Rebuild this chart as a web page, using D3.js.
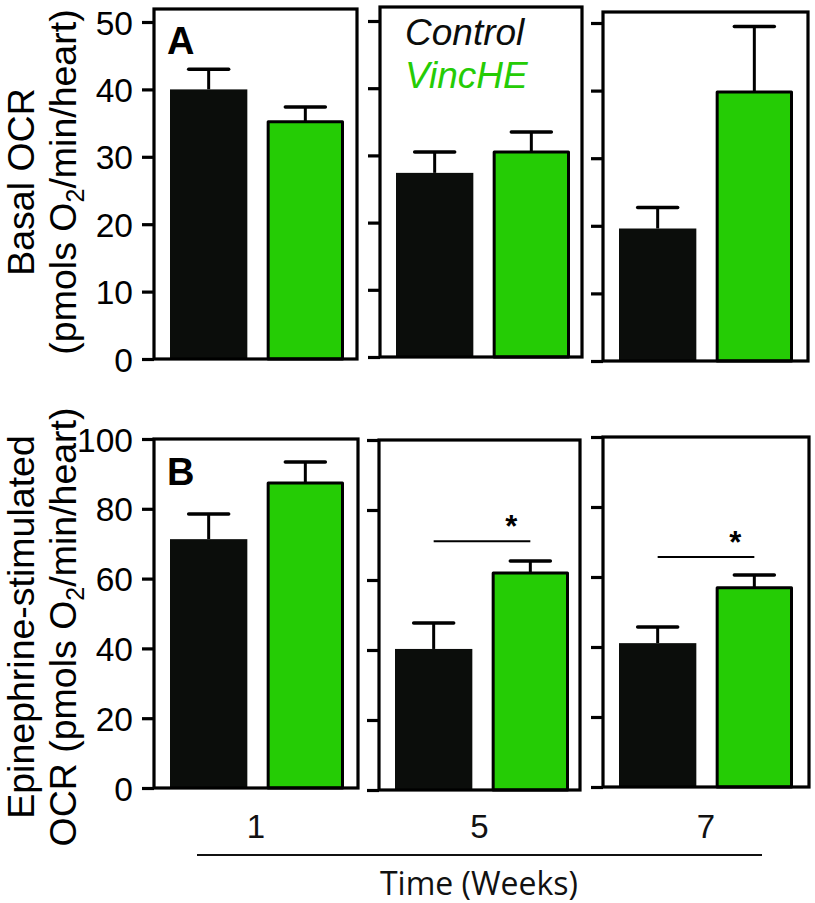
<!DOCTYPE html>
<html>
<head>
<meta charset="utf-8">
<script src="https://cdn.jsdelivr.net/npm/d3@7"></script>
<style>
  html, body { margin: 0; padding: 0; background: #fff; }
  svg { display: block; }
  text { font-family: "Liberation Sans", Arial, Helvetica, sans-serif; }
</style>
</head>
<body>
<svg id="chart" width="815" height="903"></svg>
<script>
// ---------- data ----------
const weeks = ["1", "5", "7"];
const groups = ["Control", "VincHE"];

const basalControl    = [40.0, 27.4, 19.6];
const basalControlErr = [3.0, 3.1, 3.1];
const basalVinc       = [35.2, 30.5, 39.8];
const basalVincErr    = [2.2, 3.0, 9.7];

const epiControl      = [71.3, 40.3, 41.1];
const epiControlErr   = [7.2, 7.4, 4.6];
const epiVinc         = [87.4, 62.0, 56.9];
const epiVincErr      = [6.0, 3.4, 3.7];

const basalTicks = [0, 10, 20, 30, 40, 50];
const epiTicks   = [0, 20, 40, 60, 80, 100];

// significance bars (panel B): week, height of bracket in data units
const sigWeeks   = ["5", "7"];
const sigHeights = [71.1, 65.7];

const panelLetters = ["A", "B"];
const xTitle = "Time (Weeks)";

// ---------- layout ----------
const colors = { Control: "#0b0d0b", VincHE: "#25cc05" };

// per-panel frame geometry [left, frameTop, right, bottom, yTopTickPx]
const rowA = [
  [154, 9, 357, 359, 22],
  [380, 7, 582, 357, 21],
  [603, 12, 808, 361, 23]
];
const rowB = [
  [154, 439, 358, 788, 439],
  [379, 440, 580, 790, 440],
  [603, 437, 809, 787, 437]
];

const svg = d3.select("#chart");

function drawRow(geom, ctrl, ctrlErr, vinc, vincErr, ticks, maxV, letter, showSig) {
  geom.forEach((g, i) => {
    const [left, top, right, bottom, yTop] = g;
    const y = d3.scaleLinear().domain([0, maxV]).range([bottom, yTop]);
    const x = d3.scaleBand().domain(groups).range([left + 16, left + 190]).paddingInner(0.2);
    const gp = svg.append("g");

    // bars + error bars
    const vals = [
      { k: "Control", v: ctrl[i], e: ctrlErr[i] },
      { k: "VincHE", v: vinc[i], e: vincErr[i] }
    ];
    vals.forEach(d => {
      const cx = x(d.k) + x.bandwidth() / 2;
      gp.append("line")
        .attr("x1", cx).attr("x2", cx)
        .attr("y1", y(d.v)).attr("y2", y(d.v + d.e))
        .attr("stroke", "#000").attr("stroke-width", 3);
      gp.append("line")
        .attr("x1", cx - 20).attr("x2", cx + 20)
        .attr("y1", y(d.v + d.e)).attr("y2", y(d.v + d.e))
        .attr("stroke", "#000").attr("stroke-width", 3.5).attr("stroke-linecap", "round");
      const inset = d.k === "VincHE" ? 1.5 : 0;
      gp.append("rect")
        .attr("x", x(d.k) + inset)
        .attr("y", y(d.v))
        .attr("width", x.bandwidth() - 2 * inset)
        .attr("height", y(0) - y(d.v))
        .attr("fill", colors[d.k])
        .attr("stroke", d.k === "VincHE" ? "#000" : "none")
        .attr("stroke-width", 3)
        .attr("stroke-linejoin", "round");
    });

    // frame
    gp.append("rect")
      .attr("x", left).attr("y", top)
      .attr("width", right - left).attr("height", bottom - top)
      .attr("fill", "none").attr("stroke", "#000").attr("stroke-width", 3.2);

    // y axis ticks
    const axis = d3.axisLeft(y).tickValues(ticks).tickSize(12)
      .tickFormat(i === 0 ? d3.format("d") : () => "");
    const ax = gp.append("g").attr("transform", `translate(${left},0)`).call(axis);
    ax.select(".domain").remove();
    ax.selectAll(".tick line").attr("stroke", "#000").attr("stroke-width", 3.2);
    ax.selectAll(".tick text")
      .attr("x", -21).attr("dy", "0.36em")
      .attr("font-size", 33.5).attr("fill", "#000");

    // significance
    if (showSig) {
      const si = sigWeeks.indexOf(weeks[i]);
      if (si >= 0) {
        const x1 = x("Control") + x.bandwidth() / 2;
        const x2 = x("VincHE") + x.bandwidth() / 2;
        const sy = y(sigHeights[si]);
        gp.append("line").attr("x1", x1).attr("x2", x2)
          .attr("y1", sy).attr("y2", sy)
          .attr("stroke", "#000").attr("stroke-width", 2);
        gp.append("text")
          .attr("x", x2 - 19).attr("y", sy - 4.5)
          .attr("text-anchor", "middle")
          .attr("font-size", 31).attr("font-weight", "bold")
          .attr("fill", "#000")
          .text("*");
      }
    }

    if (i === 0) {
      gp.append("text")
        .attr("x", left + 13).attr("y", top + (letter === "A" ? 45 : 46))
        .attr("font-size", 38).attr("font-weight", "bold")
        .attr("fill", "#000").text(letter);
    }
  });
}

drawRow(rowA, basalControl, basalControlErr, basalVinc, basalVincErr, basalTicks, 50, panelLetters[0], false);
drawRow(rowB, epiControl, epiControlErr, epiVinc, epiVincErr, epiTicks, 100, panelLetters[1], true);

// legend
svg.append("text").attr("x", 405).attr("y", 45)
  .attr("font-size", 37).attr("font-style", "italic").attr("fill", colors.Control).text(groups[0]);
svg.append("text").attr("x", 405).attr("y", 88)
  .attr("font-size", 37).attr("font-style", "italic").attr("fill", colors.VincHE).text(groups[1]);

// y titles
function yTitle(cy, line1, line2parts) {
  const g = svg.append("g").attr("transform", `translate(0,${cy}) rotate(-90)`);
  g.append("text").attr("x", 0).attr("y", 34).attr("text-anchor", "middle")
    .attr("font-size", 37.5).attr("fill", "#000").text(line1);
  const t = g.append("text").attr("x", 0).attr("y", 76).attr("text-anchor", "middle")
    .attr("font-size", 37.5).attr("fill", "#000");
  t.append("tspan").text(line2parts[0]);
  t.append("tspan").attr("font-size", 25).attr("dy", 8).text("2");
  t.append("tspan").attr("dy", -8).text(line2parts[1]);
}
yTitle(182, "Basal OCR", ["(pmols O", "/min/heart)"]);
yTitle(627, "Epinephrine-stimulated", ["OCR (pmols O", "/min/heart)"]);

// x labels
const xCenters = rowB.map(g => (g[0] + g[2]) / 2);
svg.selectAll(".wk").data(weeks).enter().append("text")
  .attr("class", "wk")
  .attr("x", (d, i) => xCenters[i]).attr("y", 838)
  .attr("text-anchor", "middle").attr("font-size", 33).attr("fill", "#111")
  .text(d => d);

svg.append("line").attr("x1", 197).attr("x2", 762).attr("y1", 855).attr("y2", 855)
  .attr("stroke", "#111").attr("stroke-width", 2);

svg.append("text").attr("x", 479).attr("y", 895)
  .attr("text-anchor", "middle").attr("font-size", 32)
  .style("font-family", "'Open Sans', sans-serif")
  .attr("fill", "#111").text(xTitle);
</script>
</body>
</html>
